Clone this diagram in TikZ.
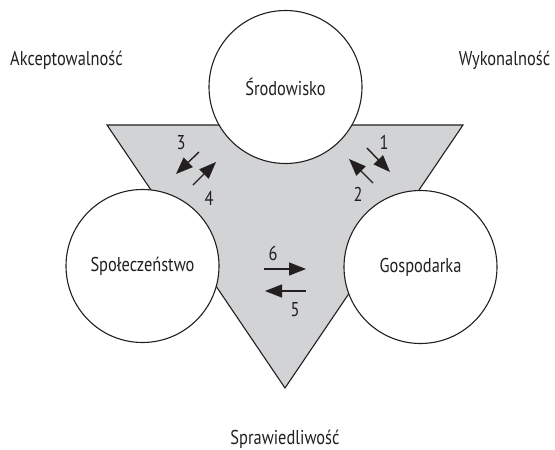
\documentclass[tikz,border=0pt]{standalone}
\usepackage{fontspec}
\setmainfont{PT Sans}[FakeStretch=0.82]
\usetikzlibrary{arrows.meta}
\definecolor{TriGrey}{RGB}{209, 211, 212}
\definecolor{InkBlack}{RGB}{35, 31, 32}

\tikzset{
    pole/.style={circle, draw=InkBlack, line width=1.1pt, fill=white, minimum size=153pt, inner sep=0pt, text=InkBlack, font=\fontsize{20}{24}\selectfont},
    flow/.style={-{Triangle[length=17pt, width=13pt]}, line width=1.4pt, InkBlack},
    tag/.style={text=InkBlack, inner sep=0pt, font=\fontsize{20}{24}\selectfont}
}

\begin{document}
\begin{tikzpicture}[x=1pt, y=-1pt]
    \useasboundingbox (0,0) rectangle (555,450);

    % Trojkat
    \coordinate (tl) at (107,125);
    \coordinate (tr) at (463,125);
    \coordinate (bt) at (285,388);
    \draw[fill=TriGrey, draw=InkBlack, line width=1.1pt, line join=miter] (tl) -- (tr) -- (bt) -- cycle;

    % Kola
    \node[pole] (srod) at (285.5,87) {Środowisko};
    \node[pole] (spol) at (142.5,266) {Społeczeństwo};
    \node[pole] (gosp) at (420.5,267) {Gospodarka};

    % Etykiety zewnetrzne
    \node[tag, anchor=base] (akc) at (66.5,65) {Akceptowalność};
    \node[tag, anchor=base] (wyk) at (504.5,65) {Wykonalność};
    \node[tag, anchor=base] (spr) at (285,444) {Sprawiedliwość};

    % Strzalki 3 i 4
    \coordinate (a3s) at (199,152); \coordinate (a3e) at (176,174);
    \coordinate (a4s) at (193,185); \coordinate (a4e) at (216,162);
    \draw[flow] (a3s) -- (a3e);
    \draw[flow] (a4s) -- (a4e);
    \node[tag] (n3) at (181,143) {3};
    \node[tag] (n4) at (209,198) {4};

    % Strzalki 1 i 2
    \coordinate (a1s) at (367,148); \coordinate (a1e) at (390,172);
    \coordinate (a2s) at (373,183); \coordinate (a2e) at (349,159);
    \draw[flow] (a1s) -- (a1e);
    \draw[flow] (a2s) -- (a2e);
    \node[tag] (n1) at (384,142) {1};
    \node[tag] (n2) at (358,194) {2};

    % Strzalki 6 i 5
    \coordinate (a6s) at (264,269); \coordinate (a6e) at (306,269);
    \coordinate (a5s) at (306,291); \coordinate (a5e) at (265,291);
    \draw[flow] (a6s) -- (a6e);
    \draw[flow] (a5s) -- (a5e);
    \node[tag] (n6) at (273,253) {6};
    \node[tag] (n5) at (295,310) {5};
\end{tikzpicture}
\end{document}
